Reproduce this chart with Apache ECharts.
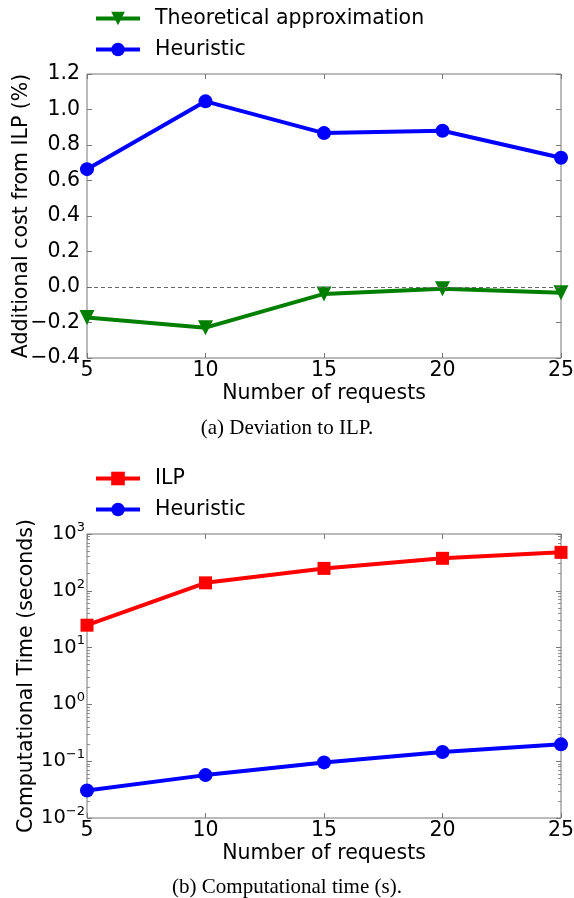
<!DOCTYPE html>
<html>
<head>
<meta charset="utf-8">
<script src="https://cdn.jsdelivr.net/npm/echarts@6/dist/echarts.min.js"></script>
<style>
  html, body { margin: 0; padding: 0; background: #fff; }
  #chart { width: 574px; height: 898px; }
</style>
</head>
<body>
<div id="chart"></div>
<script>
// data
var requests = [5, 10, 15, 20, 25];
var theoApprox = [-0.172, -0.229, -0.039, -0.01, -0.032];
var heurDeviation = [0.664, 1.046, 0.867, 0.88, 0.728];
var ilpTime = [24.8, 138, 248, 373, 475];
var heurTime = [0.0305, 0.0569, 0.0953, 0.145, 0.198];

var FONT = 'DejaVu Sans';
var FS = 20.5;
var FRAME = '#777';

function pairs(ys) {
    return requests.map(function (x, i) { return [x, ys[i]]; });
}

function minus(s) {
    return String(s).replace('-', '\u2212');
}

// log minor ticks (2..9 x 10^e)
var minorTicks = [];
for (var e = -2; e < 3; e++) {
    for (var m = 2; m < 10; m++) {
        minorTicks.push(m * Math.pow(10, e));
    }
}

var tickStyle = { show: true, inside: true, length: 5, lineStyle: { color: FRAME, width: 1 } };
var noLine = { show: false, onZero: false };

function xAxisOf(grid, withLabels) {
    return {
        type: 'value', gridIndex: grid, min: 5, max: 25, interval: 5,
        position: withLabels ? 'bottom' : 'top',
        axisLine: noLine, axisTick: tickStyle, splitLine: { show: false },
        axisLabel: { show: withLabels, margin: 2, fontSize: FS, fontFamily: FONT, color: '#000' },
        name: withLabels ? 'Number of requests' : '',
        nameLocation: 'middle', nameGap: 25, nameMoveOverlap: false,
        nameTextStyle: { fontSize: FS, fontFamily: FONT, color: '#000' }
    };
}

function legendOf(top, names) {
    return {
        data: names,
        orient: 'vertical', left: 94, top: top, padding: 0,
        itemWidth: 44, itemHeight: 17, itemGap: 10,
        lineStyle: { width: 4 },
        textStyle: { fontSize: FS, fontFamily: FONT, color: '#000', lineHeight: 20, padding: [0, 0, 0, 10] }
    };
}

function logAxis(pos, ticks) {
    return {
        type: 'log', logBase: 10, gridIndex: 1, min: 0.01, max: 1000, position: pos,
        axisLine: noLine, splitLine: { show: false }, axisLabel: { show: false },
        axisTick: ticks
    };
}

var leftLog = logAxis('left', tickStyle);
leftLog.axisLabel = {
    margin: 2, color: '#000',
    formatter: function (v) {
        var ex = Math.round(Math.log(v) / Math.LN10);
        return '{b|10}{s|' + minus(ex) + '}';
    },
    rich: {
        b: { fontSize: 19.5, fontFamily: FONT, color: '#000' },
        s: { fontSize: 13, fontFamily: FONT, color: '#000', padding: [0, 0, 13, 0] }
    }
};
leftLog.name = 'Computational Time (seconds)';
leftLog.nameLocation = 'middle';
leftLog.nameGap = 50;
leftLog.nameMoveOverlap = false;
leftLog.nameTextStyle = { fontSize: FS, fontFamily: FONT, color: '#000' };

var minorStyle = { show: true, inside: true, length: 3, customValues: minorTicks, lineStyle: { color: FRAME, width: 0.8 } };

var option = {
    animation: false,
    backgroundColor: '#fff',
    textStyle: { fontFamily: FONT },
    grid: [
        { left: 87, top: 74, width: 474, height: 284, outerBoundsMode: 'none', containLabel: false,
          show: true, borderColor: FRAME, borderWidth: 1, backgroundColor: 'transparent' },
        { left: 87, top: 534, width: 474, height: 284, outerBoundsMode: 'none', containLabel: false,
          show: true, borderColor: FRAME, borderWidth: 1, backgroundColor: 'transparent' }
    ],
    legend: [
        legendOf(8, ['Theoretical approximation', 'Heuristic']),
        legendOf(468, ['ILP', 'Heuristic'])
    ],
    xAxis: [xAxisOf(0, true), xAxisOf(0, false), xAxisOf(1, true), xAxisOf(1, false)],
    yAxis: [
        {
            type: 'value', gridIndex: 0, min: -0.4, max: 1.2, interval: 0.2, position: 'left',
            axisLine: noLine, axisTick: tickStyle, splitLine: { show: false },
            axisLabel: {
                margin: 7, fontSize: FS, fontFamily: FONT, color: '#000',
                formatter: function (v) { return minus(v.toFixed(1)); }
            },
            name: 'Additional cost from ILP (%)', nameLocation: 'middle', nameGap: 55,
            nameMoveOverlap: false,
            nameTextStyle: { fontSize: FS, fontFamily: FONT, color: '#000' }
        },
        {
            type: 'value', gridIndex: 0, min: -0.4, max: 1.2, interval: 0.2, position: 'right',
            axisLine: noLine, axisTick: tickStyle, splitLine: { show: false }, axisLabel: { show: false }
        },
        leftLog,
        logAxis('right', tickStyle),
        logAxis('left', minorStyle),
        logAxis('right', minorStyle)
    ],
    graphic: [
        {
            type: 'text', left: 'center', top: 418,
            style: { text: '(a) Deviation to ILP.', font: '21px "Liberation Serif"', fill: '#000' }
        },
        {
            type: 'text', left: 'center', top: 877,
            style: { text: '(b) Computational time (s).', font: '21px "Liberation Serif"', fill: '#000' }
        }
    ],
    series: [
        {
            name: 'Theoretical approximation', type: 'line', xAxisIndex: 0, yAxisIndex: 0,
            data: pairs(theoApprox),
            symbol: 'triangle', symbolRotate: 180, symbolSize: 15,
            lineStyle: { color: '#007f00', width: 4 },
            itemStyle: { color: '#007f00' },
            markLine: {
                silent: true, symbol: 'none', label: { show: false },
                lineStyle: { color: '#666', type: [4, 3], width: 1 },
                data: [{ yAxis: 0 }]
            },
            z: 3
        },
        {
            name: 'Heuristic', type: 'line', xAxisIndex: 0, yAxisIndex: 0,
            data: pairs(heurDeviation),
            symbol: 'circle', symbolSize: 14,
            lineStyle: { color: '#0000ff', width: 4 },
            itemStyle: { color: '#0000ff' },
            z: 3
        },
        {
            name: 'ILP', type: 'line', xAxisIndex: 2, yAxisIndex: 2,
            data: pairs(ilpTime),
            symbol: 'rect', symbolSize: 13,
            lineStyle: { color: '#ff0000', width: 4 },
            itemStyle: { color: '#ff0000' },
            z: 3
        },
        {
            name: 'Heuristic', type: 'line', xAxisIndex: 2, yAxisIndex: 2,
            data: pairs(heurTime),
            symbol: 'circle', symbolSize: 14,
            lineStyle: { color: '#0000ff', width: 4 },
            itemStyle: { color: '#0000ff' },
            z: 3
        }
    ]
};

var chart = echarts.init(document.getElementById('chart'), null, { renderer: 'canvas' });
chart.setOption(option);
</script>
</body>
</html>
